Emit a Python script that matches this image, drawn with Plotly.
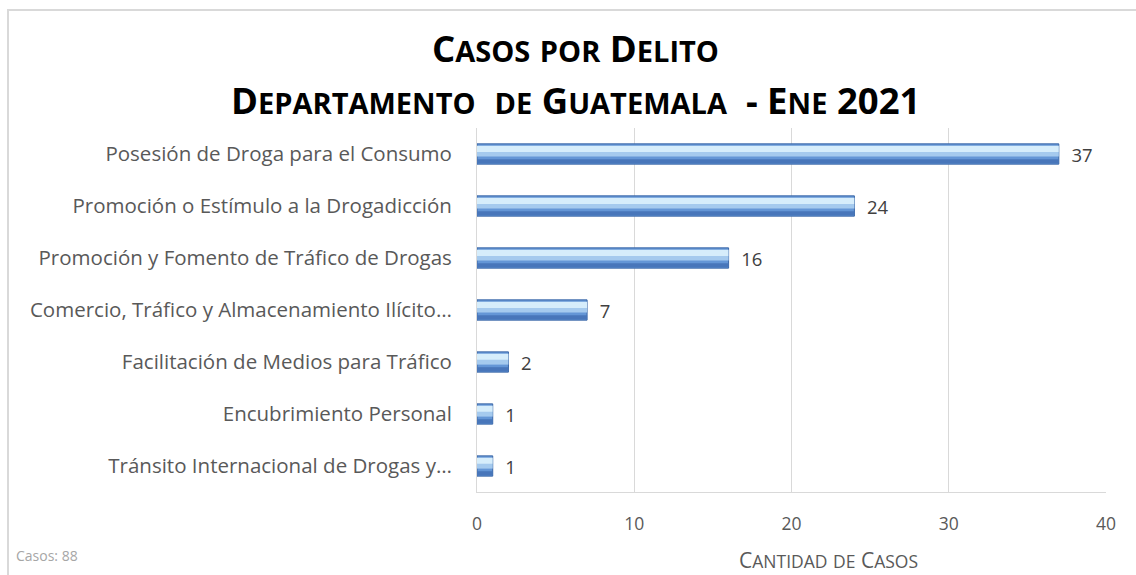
import plotly.graph_objects as go

categories = [
    "Posesión de Droga para el Consumo",
    "Promoción o Estímulo a la Drogadicción",
    "Promoción y Fomento de Tráfico de Drogas",
    "Comercio, Tráfico y Almacenamiento Ilícito…",
    "Facilitación de Medios para Tráfico",
    "Encubrimiento Personal",
    "Tránsito Internacional de Drogas y…",
]
values = [37, 24, 16, 7, 2, 1, 1]
x_ticks = [0, 10, 20, 30, 40]

W, H = 1136, 575
L, R, T, B = 477, 30, 128, 83
pw, ph = W - L - R, H - T - B

def px_x(x):
    return (x - L) / pw

def px_y(y):
    return 1 - (y - T) / ph

FONT = "Open Sans"

fig = go.Figure()
# base bar with labels
fig.add_trace(go.Bar(
    y=categories, x=values, orientation="h",
    marker=dict(color="#6496D6", line=dict(color="#3A66A6", width=1)),
    width=0.39, offset=-0.195,
    text=["  " + str(v) for v in values], textposition="outside",
    constraintext="none",
    textfont=dict(family=FONT, size=18.5, color="#404040"),
    cliponaxis=False, hoverinfo="skip",
))
# shading bands (same values) to imitate the bevelled gradient
bands = [
    (-0.16, 0.12, "rgba(214,237,251,1)"),
    (-0.04, 0.09, "rgba(165,202,238,1)"),
    (0.10, 0.085, "rgba(72,118,186,1)"),
]
for off, wd, col in bands:
    fig.add_trace(go.Bar(
        y=categories, x=values, orientation="h",
        marker=dict(color=col, line=dict(width=0)),
        width=wd, offset=off, hoverinfo="skip",
    ))

def smallcaps(s, big, small):
    out = []
    for ch in s:
        if ch.isupper() or ch.isdigit() or ch == "-":
            out.append(f'<span style="font-size:{big}px">{ch}</span>')
        elif ch == " ":
            out.append(" ")
        else:
            out.append(f'<span style="font-size:{small}px">{ch.upper()}</span>')
    return "".join(out)

fig.add_annotation(
    text="<b>" + smallcaps("Casos por Delito", 36.5, 29) + "</b>",
    xref="paper", yref="paper", x=px_x(575), y=px_y(48),
    xanchor="center", yanchor="middle", showarrow=False,
    font=dict(family=FONT, size=36.5, color="#000000"),
)
fig.add_annotation(
    text="<b>" + smallcaps("Departamento  de Guatemala  - Ene 2021", 36.5, 29) + "</b>",
    xref="paper", yref="paper", x=px_x(575), y=px_y(100),
    xanchor="center", yanchor="middle", showarrow=False,
    font=dict(family=FONT, size=36.5, color="#000000"),
)
fig.add_annotation(
    text=smallcaps("Cantidad de Casos", 21, 17.5),
    xref="paper", yref="paper", x=px_x(828), y=px_y(560),
    xanchor="center", yanchor="middle", showarrow=False,
    font=dict(family=FONT, size=21, color="#595959"),
)
fig.add_annotation(
    text="Casos: 88",
    xref="paper", yref="paper", x=px_x(14), y=px_y(555),
    xanchor="left", yanchor="middle", showarrow=False,
    font=dict(family=FONT, size=14, color="#A6A6A6"),
)

fig.add_shape(
    type="rect", xref="paper", yref="paper",
    x0=px_x(8), x1=px_x(1160), y0=px_y(600), y1=px_y(10),
    line=dict(color="#D9D9D9", width=2), fillcolor="rgba(0,0,0,0)", layer="below",
)

fig.update_layout(
    width=W, height=H,
    margin=dict(l=L, r=R, t=T, b=B, pad=0),
    paper_bgcolor="white", plot_bgcolor="white",
    barmode="overlay", showlegend=False,
    font=dict(family=FONT, color="#595959"),
    xaxis=dict(
        range=[0, 40], tickvals=x_ticks, ticktext=[str(t) for t in x_ticks],
        showgrid=True, gridcolor="#D9D9D9", gridwidth=1,
        zeroline=False, showline=True, linecolor="#D9D9D9", linewidth=1,
        ticks="", ticklabelstandoff=16,
        tickfont=dict(family=FONT, size=17.5, color="#595959"),
        fixedrange=True,
    ),
    yaxis=dict(
        autorange="reversed", showgrid=False, zeroline=False,
        showline=True, linecolor="#D9D9D9", linewidth=1,
        ticks="", ticklabelstandoff=20,
        tickfont=dict(family=FONT, size=20.5, color="#595959"),
        fixedrange=True,
    ),
)

fig.write_html(
    "out.html",
    config={"displayModeBar": False},
    post_script="document.body.style.margin='0';document.body.style.overflow='hidden';",
)
